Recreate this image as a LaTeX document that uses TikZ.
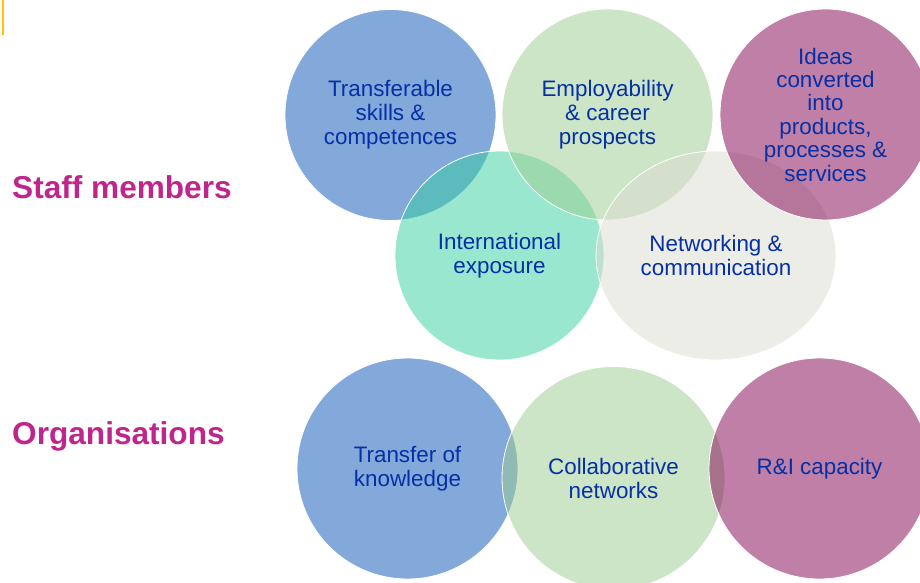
\documentclass[tikz,border=0pt]{standalone}
\usepackage{fontspec}
\setmainfont{Liberation Sans}
\definecolor{cblue}{RGB}{9,83,183}
\definecolor{cgreen}{RGB}{157,205,145}
\definecolor{cmag}{RGB}{129,1,81}
\definecolor{cteal}{RGB}{55,209,161}
\definecolor{cbeige}{RGB}{221,221,209}
\definecolor{ctext}{RGB}{5,48,165}
\definecolor{chead}{RGB}{190,38,140}
\definecolor{cyel}{RGB}{255,192,0}
\tikzset{
  blob/.style={fill=#1, fill opacity=0.5, draw=white, draw opacity=1, line width=0.8pt},
  lbl/.style={text=ctext, align=center, inner sep=0pt, font=\fontsize{22.4}{24}\selectfont},
  head/.style={text=chead, anchor=base west, inner sep=0pt, font=\fontsize{31.6}{36}\selectfont\bfseries}
}
\begin{document}
\begin{tikzpicture}[x=1pt,y=-1pt]
\useasboundingbox (0,0) rectangle (920,583);
\clip (0,0) rectangle (920,583);
\fill[white] (0,0) rectangle (920,583);
% yellow mark
\coordinate (ya) at (3,0);
\coordinate (yb) at (3,35);
\draw[cyel, line width=2.2pt] (ya) -- (yb);
% top row
\coordinate (c1) at (390.5,115);
\coordinate (c2) at (607.5,114.5);
\coordinate (c3) at (825.5,114.5);
\coordinate (c4) at (499.5,255.5);
\coordinate (c5) at (716,255.5);
\draw[blob=cblue] (c1) circle[radius=105.5];
\draw[blob=cteal] (c4) circle[radius=104.5];
\draw[blob=cgreen] (c2) circle[radius=105.5];
\draw[blob=cbeige] (c5) ellipse[x radius=120, y radius=104.5];
\draw[blob=cmag] (c3) circle[radius=105.5];
% bottom row
\coordinate (d1) at (407.5,468.5);
\coordinate (d2) at (613.5,478);
\coordinate (d3) at (819.5,468.5);
\draw[blob=cblue] (d1) circle[radius=110.5];
\draw[blob=cgreen] (d2) circle[radius=111.5];
\draw[blob=cmag] (d3) circle[radius=110.5];
% labels
\node[lbl] (t1) at (c1) {Transferable\\skills \&\\competences};
\node[lbl] (t2) at (c2) {Employability\\\& career\\prospects};
\node[lbl, font=\fontsize{22.4}{23.4}\selectfont] (t3) at (c3) {Ideas\\converted\\into\\products,\\processes \&\\services};
\node[lbl] (t4) at (c4) {International\\exposure};
\node[lbl] (t5) at (c5) {Networking \&\\communication};
\node[lbl] (u1) at (d1) {Transfer of\\knowledge};
\node[lbl] (u2) at (d2) {Collaborative\\networks};
\node[lbl] (u3) at (d3) {R\&I capacity};
% headings
\node[head] (h1) at (12,198) {Staff members};
\node[head] (h2) at (12,444) {Organisations};
\end{tikzpicture}
\end{document}
